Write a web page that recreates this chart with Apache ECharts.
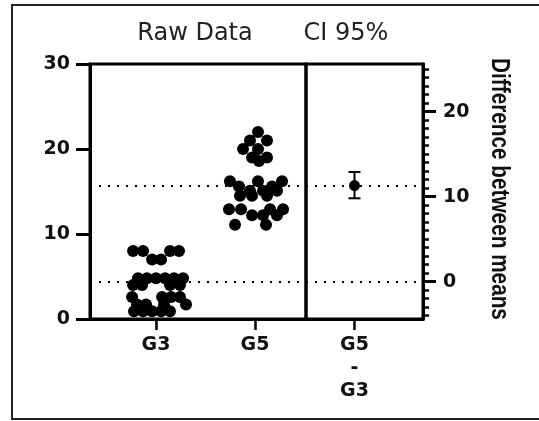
<!DOCTYPE html>
<html>
<head>
<meta charset="utf-8">
<script src="https://cdn.jsdelivr.net/npm/echarts@6/dist/echarts.min.js"></script>
<style>
html,body{margin:0;padding:0;background:#fff;}
#c{width:539px;height:421px;}
</style>
</head>
<body>
<div id="c"></div>
<script>
// ---- data ----
const groups = ['G3', 'G5'];
const diffLabel = 'G5\n-\nG3';
const panelTitles = ['Raw Data', 'CI 95%'];
const rightAxisTitle = 'Difference between means';

// G3 raw values and their beeswarm spread (fraction of a category step)
const g3Values  = [8, 8, 8, 8, 7, 7, 4.8, 4.8, 4.8, 4.8, 4.8, 4.8, 4.0, 4.0, 4.0, 4.0, 2.6, 2.6, 2.6, 2.6, 1.7, 1.7, 1.7, 1.7, 0.9, 0.9, 0.9, 0.9, 0.9];
const g3Offsets = [-0.232, -0.131, 0.141, 0.232, -0.040, 0.051, -0.182, -0.091, 0, 0.091, 0.182, 0.273, -0.232, -0.141, 0.141, 0.242, -0.242, 0.061, 0.152, 0.242, -0.192, -0.101, 0.081, 0.303, -0.222, -0.131, -0.040, 0.051, 0.141];

// G5 raw values and their beeswarm spread
const g5Values  = [22.0, 21.0, 21.0, 20.0, 20.0, 19.0, 19.0, 18.6, 16.2, 16.2, 16.2, 15.6, 15.6, 15.1, 15.1, 15.1, 14.5, 14.5, 14.5, 12.9, 12.9, 12.9, 12.9, 12.2, 12.2, 12.2, 11.1, 11.1];
const g5Offsets = [0.030, -0.051, 0.121, -0.121, 0.030, -0.030, 0.121, 0.040, -0.253, 0.030, 0.273, -0.162, 0.172, -0.051, 0.081, 0.222, -0.152, -0.030, 0.121, -0.263, -0.141, 0.152, 0.283, -0.030, 0.081, 0.222, -0.202, 0.111];

const g3Mean = 4.4;
const g5Mean = 15.7;
const diffMean = 11.3;
const diffCI = [9.8, 12.9];

const leftTicks = [0, 10, 20, 30];
const rightMajorTicks = [0, 10, 20];
const rightMinorTicks = [-4, -3, -2, -1, 0, 1, 2, 3, 4, 5, 6, 7, 8, 9, 10, 11, 12, 13, 14, 15, 16, 17, 18, 19, 20, 21, 22, 23, 24, 25];

// ---- chart ----
const chart = echarts.init(document.getElementById('c'), null, {renderer: 'canvas'});

const g3Data = g3Values.map((v, i) => [1 + g3Offsets[i], v]);
const g5Data = g5Values.map((v, i) => [2 + g5Offsets[i], v]);

const tickFont = {fontFamily: 'DejaVu Sans', fontWeight: 'bold', fontSize: 19, color: '#111'};
const dotted = {color: '#000', width: 2, type: [2, 7]};
const axisLine = {show: true, onZero: false, lineStyle: {color: '#000', width: 3}};

const option = {
  animation: false,
  backgroundColor: '#fff',
  grid: [
    {left: 90, top: 64, width: 216, height: 255, show: true, borderColor: '#000', borderWidth: 3, backgroundColor: 'transparent'},
    {left: 306, top: 64, width: 117, height: 255, show: true, borderColor: '#000', borderWidth: 3, backgroundColor: 'transparent'}
  ],
  xAxis: [
    {
      gridIndex: 0, type: 'value', min: 0.333, max: 2.515,
      axisLine: axisLine,
      axisTick: {show: true, customValues: [1, 2], length: 11, lineStyle: {color: '#000', width: 2.5}},
      axisLabel: Object.assign({customValues: [1, 2], margin: 15, lineHeight: 23,
        formatter: v => groups[Math.round(v) - 1]}, tickFont),
      splitLine: {show: false}
    },
    {
      gridIndex: 1, type: 'value', min: -0.485, max: 0.685,
      axisLine: axisLine,
      axisTick: {show: true, customValues: [0], length: 11, lineStyle: {color: '#000', width: 2.5}},
      axisLabel: Object.assign({customValues: [0], margin: 15, lineHeight: 23,
        formatter: () => diffLabel}, tickFont),
      splitLine: {show: false}
    }
  ],
  yAxis: [
    {
      gridIndex: 0, type: 'value', min: 0, max: 30,
      axisLine: axisLine,
      axisTick: {show: true, customValues: leftTicks, length: 14, lineStyle: {color: '#000', width: 3}},
      axisLabel: Object.assign({customValues: leftTicks, margin: 20}, tickFont),
      splitLine: {show: false}
    },
    {
      gridIndex: 1, type: 'value', position: 'right', min: -4.4, max: 25.6,
      axisLine: axisLine,
      axisTick: {show: true, customValues: rightMajorTicks, length: 13, lineStyle: {color: '#000', width: 3}},
      axisLabel: Object.assign({customValues: rightMajorTicks, margin: 20}, tickFont),
      splitLine: {show: false}
    },
    {
      gridIndex: 1, type: 'value', position: 'right', min: -4.4, max: 25.6,
      axisLine: {show: false, onZero: false},
      axisTick: {show: true, customValues: rightMinorTicks, length: 6, lineStyle: {color: '#000', width: 2.5}},
      axisLabel: {show: false},
      splitLine: {show: false}
    }
  ],
  graphic: [
    {type: 'rect', shape: {x: 12, y: 5, width: 540, height: 414}, style: {fill: 'none', stroke: '#222', lineWidth: 2}, silent: true},
    {type: 'text', x: 195, y: 34, style: {text: panelTitles[0], font: '24px "DejaVu Sans"', fill: '#222', align: 'center', verticalAlign: 'middle', textAlign: 'center', textVerticalAlign: 'middle'}},
    {type: 'text', x: 346, y: 34, style: {text: panelTitles[1], font: '24px "DejaVu Sans"', fill: '#222', align: 'center', verticalAlign: 'middle', textAlign: 'center', textVerticalAlign: 'middle'}},
    {type: 'text', x: 499, y: 189, rotation: -Math.PI / 2, scaleX: 0.83,
      style: {text: rightAxisTitle, font: 'bold 25px "Liberation Sans"', fill: '#111', align: 'center', verticalAlign: 'middle', textAlign: 'center', textVerticalAlign: 'middle'}}
  ],
  series: [
    {
      name: groups[0], type: 'scatter', xAxisIndex: 0, yAxisIndex: 0,
      data: g3Data, symbolSize: 12, itemStyle: {color: '#000', opacity: 1},
      markLine: {silent: true, symbol: 'none', label: {show: false}, lineStyle: dotted,
        data: [{yAxis: g3Mean}, {yAxis: g5Mean}]}
    },
    {
      name: groups[1], type: 'scatter', xAxisIndex: 0, yAxisIndex: 0,
      data: g5Data, symbolSize: 12, itemStyle: {color: '#000', opacity: 1}
    },
    {
      name: 'ci', type: 'custom', xAxisIndex: 1, yAxisIndex: 1,
      data: [[0, diffCI[0], diffCI[1]]],
      encode: {x: 0, y: [1, 2]},
      renderItem: function (params, api) {
        const x = api.value(0);
        const lo = api.coord([x, api.value(1)]);
        const hi = api.coord([x, api.value(2)]);
        const hw = 6;
        const st = {stroke: '#000', lineWidth: 2};
        return {type: 'group', children: [
          {type: 'line', shape: {x1: hi[0], y1: hi[1], x2: lo[0], y2: lo[1]}, style: st},
          {type: 'line', shape: {x1: hi[0] - hw, y1: hi[1], x2: hi[0] + hw, y2: hi[1]}, style: st},
          {type: 'line', shape: {x1: lo[0] - hw, y1: lo[1], x2: lo[0] + hw, y2: lo[1]}, style: st}
        ]};
      }
    },
    {
      name: 'diff', type: 'scatter', xAxisIndex: 1, yAxisIndex: 1,
      data: [[0, diffMean]], symbolSize: 11, itemStyle: {color: '#000', opacity: 1},
      markLine: {silent: true, symbol: 'none', label: {show: false}, lineStyle: dotted,
        data: [{yAxis: 0}, {yAxis: diffMean}]}
    }
  ]
};
chart.setOption(option);
</script>
</body>
</html>
